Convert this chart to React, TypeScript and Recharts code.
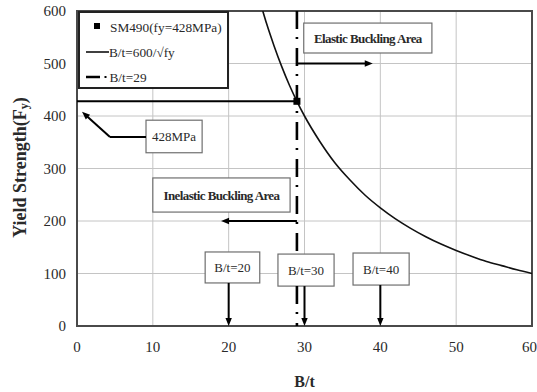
import React from 'react';
import {
  ComposedChart, Line, Scatter, XAxis, YAxis, CartesianGrid,
  ReferenceLine, ReferenceArea, Legend,
} from 'recharts';

// ---- data ----
const curveBt = [24.5, 25, 26, 27, 28, 29, 30, 32, 34, 36, 38, 40, 42, 44, 46, 48, 50, 52, 54, 56, 58, 60];
const curveFy = [600, 576, 533, 494, 459, 428, 400, 352, 311, 278, 249, 225, 204, 186, 170, 156, 144, 133, 123, 115, 107, 100];
const pointBt = [29];
const pointFy = [428];
const xTicks = [0, 10, 20, 30, 40, 50, 60];
const yTicks = [0, 100, 200, 300, 400, 500, 600];
const limitBt = 29;
const steelFy = 428;
const legendLabels = ['SM490(fy=428MPa)', 'B/t=600/\u221Afy', 'B/t=29'];

// annotation boxes (data units)
const boxTexts = ['428MPa', 'Elastic Buckling Area', 'Inelastic Buckling Area', 'B/t=20', 'B/t=30', 'B/t=40'];
const boxX1 = [9.1, 29.9, 10.0, 16.9, 26.5, 36.4];
const boxX2 = [16.5, 46.8, 28.1, 24.1, 33.9, 43.8];
const boxY1 = [330, 520, 217, 82, 76, 78];
const boxY2 = [392, 577, 282, 141, 137, 139];
const boxBold = [false, true, true, false, false, false];

// arrows / leader lines (data units): [x1, y1, x2, y2, hasHead]
const arrowSegs: [number, number, number, number, boolean][] = [
  [9.1, 360, 4.35, 360, false],
  [4.35, 360, 0.66, 408, true],
  [29, 500, 39, 500, true],
  [29, 200, 19, 200, true],
  [20, 82, 20, 0, true],
  [30, 76, 30, 0, true],
  [40, 78, 40, 0, true],
];

const curveData = curveBt.map((bt, i) => ({ bt, fy: curveFy[i] }));
const pointData = pointBt.map((bt, i) => ({ bt, fy: pointFy[i] }));

// the B/t=29 limit line is hidden behind the "B/t=30" box
const limitHideBox = 4;
const limitSegs: [number, number][] = [
  [0, boxY1[limitHideBox]],
  [boxY2[limitHideBox], 600],
];

const SERIF = '"Liberation Serif", "Times New Roman", serif';
const TEXT = '#2a2a2a';

const ArrowShape = (hasHead: boolean) => (p: any) => {
  const { x1, y1, x2, y2 } = p;
  const dx = x2 - x1;
  const dy = y2 - y1;
  const len = Math.sqrt(dx * dx + dy * dy) || 1;
  const ux = dx / len;
  const uy = dy / len;
  const hl = 8;
  const hw = 3.2;
  const bx = x2 - ux * hl;
  const by = y2 - uy * hl;
  return (
    <g>
      <line x1={x1} y1={y1} x2={hasHead ? bx + ux * 1 : x2} y2={hasHead ? by + uy * 1 : y2} stroke="#000" strokeWidth={2} />
      {hasHead && (
        <polygon
          points={`${x2},${y2} ${bx - uy * hw},${by + ux * hw} ${bx + uy * hw},${by - ux * hw}`}
          fill="#000"
        />
      )}
    </g>
  );
};

const BoxShape = (text: string, bold: boolean) => (p: any) => {
  const { x, y, width, height } = p;
  return (
    <g>
      <rect x={x} y={y} width={width} height={height} fill="#fff" stroke="#6f6f6f" strokeWidth={1.2} />
      <text
        x={x + width / 2}
        y={y + height / 2 + 4.5}
        textAnchor="middle"
        fontFamily={SERIF}
        fontSize={13}
        fontWeight={bold ? 'bold' : 'normal'}
        letterSpacing={bold ? -0.6 : 0}
        fill={TEXT}
      >
        {text}
      </text>
    </g>
  );
};

const FrameShape = (p: any) => (
  <rect x={p.x} y={p.y} width={p.width} height={p.height} fill="none" stroke="#4a4a4a" strokeWidth={2} />
);

const LegendBox = () => (
  <svg width={151} height={78} style={{ display: 'block' }}>
    <rect x={1} y={1} width={149} height={76} fill="#fff" stroke="#222" strokeWidth={2} />
    <rect x={16} y={12} width={6} height={6} fill="#000" />
    <text x={32} y={20.5} fontFamily={SERIF} fontSize={13.3} fill={TEXT}>{legendLabels[0]}</text>
    <line x1={8} y1={41} x2={31} y2={41} stroke="#000" strokeWidth={1.5} />
    <text x={31} y={45.5} fontFamily={SERIF} fontSize={13.3} fill={TEXT}>{legendLabels[1]}</text>
    <line x1={8} y1={66} x2={22} y2={66} stroke="#000" strokeWidth={2.5} />
    <rect x={26.5} y={65} width={2} height={2} fill="#000" />
    <text x={31.5} y={70.5} fontFamily={SERIF} fontSize={13.3} fill={TEXT}>{legendLabels[2]}</text>
  </svg>
);

const YLabel = (p: any) => {
  const vb = p && p.viewBox && typeof p.viewBox.x === 'number' ? p.viewBox : { x: 0, y: 11, width: 77, height: 315 };
  const cx = vb.x + 20;
  const cy = vb.y + vb.height / 2 - 1;
  return (
    <text
      x={cx}
      y={cy}
      transform={`rotate(-90 ${cx} ${cy})`}
      textAnchor="middle"
      dominantBaseline="central"
      fontFamily={SERIF}
      fontSize={18}
      fontWeight="bold"
      fill={TEXT}
    >
      Yield Strength(F
      <tspan fontSize={12} dy={4}>y</tspan>
      <tspan dy={-4}>)</tspan>
    </text>
  );
};

const XLabel = (p: any) => {
  const vb = p && p.viewBox && typeof p.viewBox.x === 'number' ? p.viewBox : { x: 77, y: 326, width: 455, height: 66 };
  return (
    <text
      x={vb.x + vb.width / 2}
      y={vb.y + vb.height - 5}
      textAnchor="middle"
      fontFamily={SERIF}
      fontSize={16}
      fontWeight="bold"
      fill={TEXT}
    >
      B/t
    </text>
  );
};

const SquareDot = (p: any) => {
  const { cx, cy } = p;
  if (typeof cx !== 'number') return null;
  return <rect x={cx - 3.5} y={cy - 3.5} width={7} height={7} fill="#000" />;
};

export default function App() {
  return (
    <div style={{ position: 'absolute', left: 0, top: 0, width: 537, height: 392, background: '#fff' }}>
      <ComposedChart width={537} height={392} margin={{ top: 11, right: 5, left: 0, bottom: 0 }}>
        <CartesianGrid stroke="#c4c4c4" strokeWidth={1} />
        <XAxis
          type="number"
          dataKey="bt"
          domain={[0, 60]}
          ticks={xTicks}
          tickLine={false}
          axisLine={false}
          tickMargin={9}
          height={66}
          tick={{ fontFamily: SERIF, fontSize: 15, fill: TEXT }}
          label={{ content: XLabel }}
          allowDataOverflow
        />
        <YAxis
          type="number"
          dataKey="fy"
          domain={[0, 600]}
          ticks={yTicks}
          tickLine={false}
          axisLine={false}
          tickMargin={5}
          width={77}
          tick={{ fontFamily: SERIF, fontSize: 15, fill: TEXT }}
          label={{ content: YLabel }}
          allowDataOverflow
        />
        <Legend
          content={LegendBox}
          layout="vertical"
          align="center"
          verticalAlign="middle"
          wrapperStyle={{ left: 78, top: 11, width: 151, height: 78 }}
        />
        {limitSegs.map((s, i) => (
          <ReferenceLine
            key={'lim' + i}
            segment={[{ x: limitBt, y: s[1] }, { x: limitBt, y: s[0] }]}
            stroke="#000"
            strokeWidth={2.6}
            strokeDasharray="18 8 2 9"
          />
        ))}
        <ReferenceLine
          segment={[{ x: 0, y: steelFy }, { x: limitBt, y: steelFy }]}
          stroke="#000"
          strokeWidth={2}
        />
        <Line
          data={curveData}
          dataKey="fy"
          type="monotone"
          stroke="#111"
          strokeWidth={1.6}
          dot={false}
          activeDot={false}
          isAnimationActive={false}
          legendType="line"
          name={legendLabels[1]}
        />
        <Scatter
          data={pointData}
          dataKey="fy"
          shape={SquareDot}
          isAnimationActive={false}
          name={legendLabels[0]}
        />
        {boxTexts.map((t, i) => (
          <ReferenceArea
            key={'box' + i}
            x1={boxX1[i]}
            x2={boxX2[i]}
            y1={boxY1[i]}
            y2={boxY2[i]}
            shape={BoxShape(t, boxBold[i])}
            ifOverflow="visible"
          />
        ))}
        {arrowSegs.map((s, i) => (
          <ReferenceLine
            key={'arr' + i}
            segment={[{ x: s[0], y: s[1] }, { x: s[2], y: s[3] }]}
            shape={ArrowShape(s[4])}
            ifOverflow="visible"
          />
        ))}
        <ReferenceArea x1={0} x2={60} y1={0} y2={600} shape={FrameShape} ifOverflow="visible" />
      </ComposedChart>
    </div>
  );
}
